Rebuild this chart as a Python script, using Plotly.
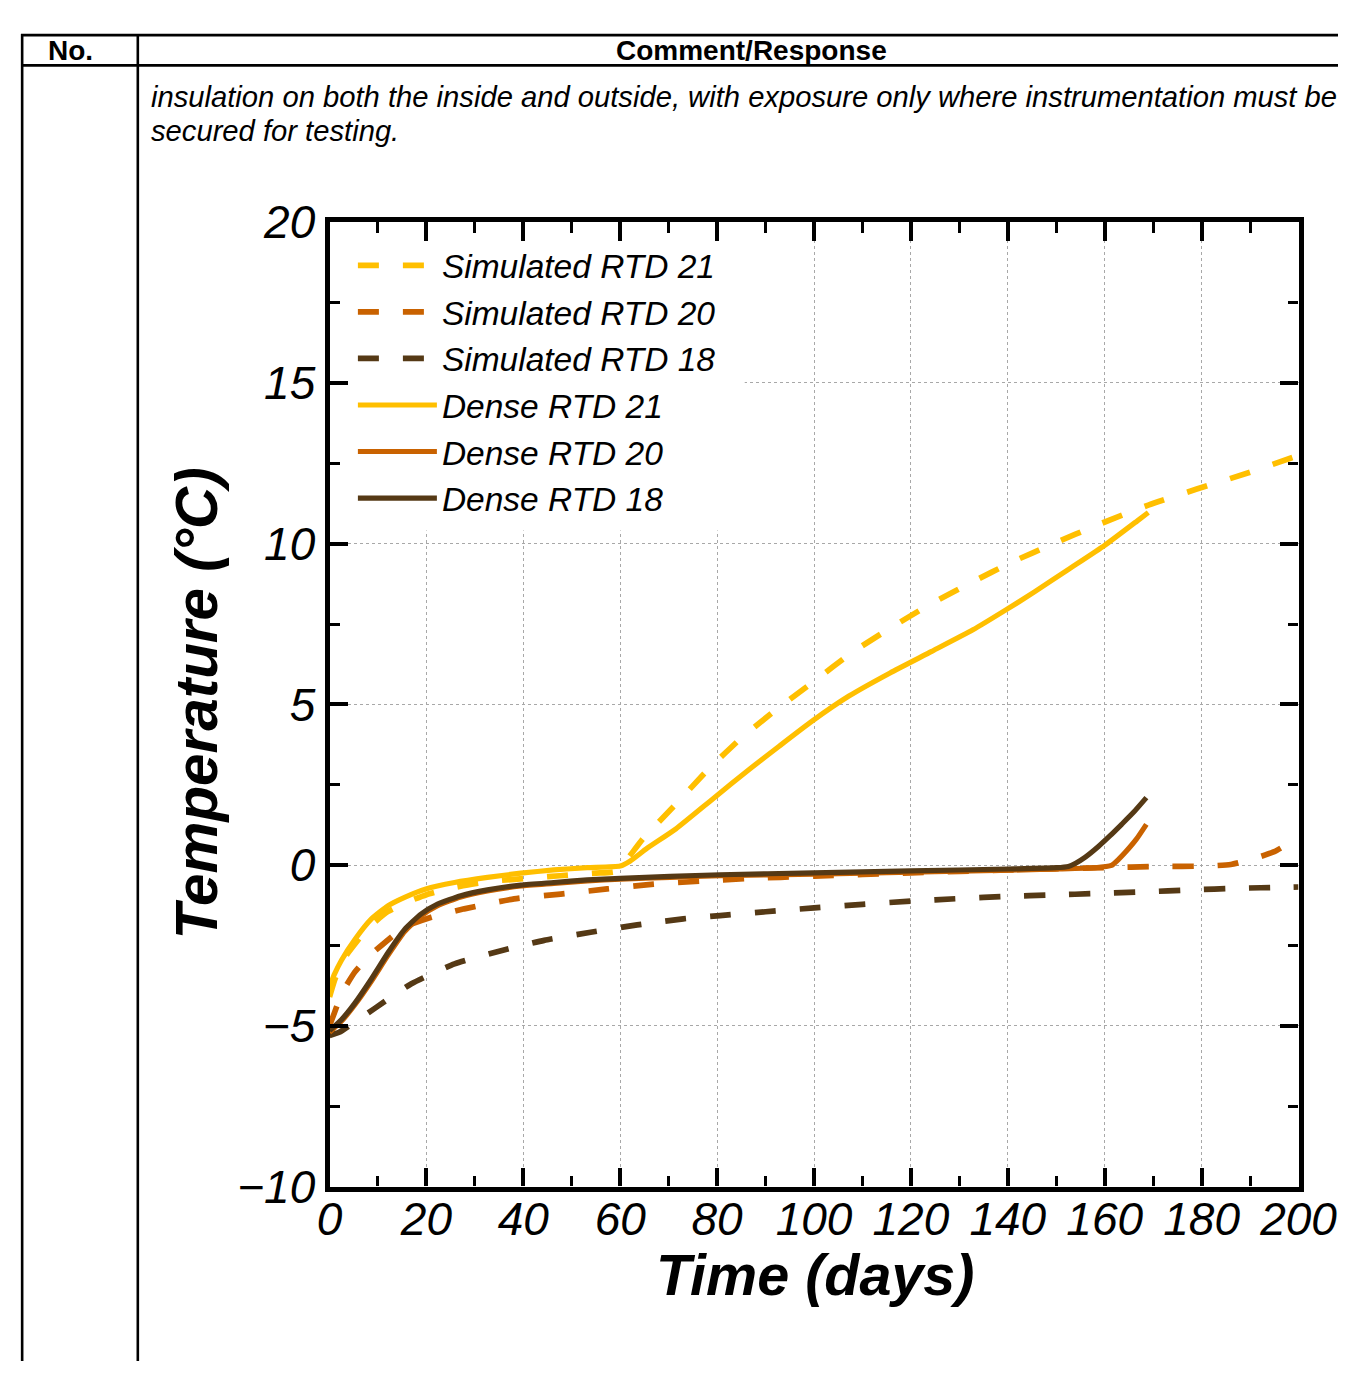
import plotly.graph_objects as go

W, H = 1369, 1379
FONT = "Liberation Sans, Arial, Helvetica, sans-serif"

# ---------------- data ----------------
sim21_days = [0, 1, 2, 3.5, 5, 8, 12, 16, 20, 25, 30, 35, 40, 45, 50, 55, 59, 61, 64.7, 71.5,
              78.3, 85.1, 92.3, 100, 107.7, 115.7, 123.8, 132.3, 140.9, 149.4, 158.3, 169,
              179, 189.5, 200]
sim21_temp = [-4.1, -3.6, -3.2, -2.8, -2.5, -1.95, -1.45, -1.15, -0.92, -0.72, -0.58, -0.48,
              -0.42, -0.36, -0.3, -0.25, -0.2, 0.1, 0.82, 1.9, 3.0, 3.97, 4.85, 5.72, 6.6,
              7.37, 8.1, 8.78, 9.43, 10.0, 10.57, 11.2, 11.7, 12.2, 12.75]

sim20_days = [0, 1, 2.5, 5.2, 8, 10.7, 13.5, 16.2, 21, 27.8, 38.1, 47.7, 57.3, 66.9, 76.5,
              86, 100, 120, 140, 160, 171, 181, 186, 190.5, 195, 198.4, 200]
sim20_temp = [-5.0, -4.6, -4.0, -3.33, -2.85, -2.5, -2.15, -1.88, -1.62, -1.36, -1.05, -0.9,
              -0.74, -0.59, -0.5, -0.42, -0.34, -0.24, -0.15, -0.08, -0.04, -0.03, 0.02,
              0.19, 0.42, 0.71, 0.82]

sim18_days = [0, 2, 5, 9.3, 16.9, 25.8, 35.4, 44.3, 53.9, 63.5, 73, 80.6, 90, 100, 110, 120,
              130, 140, 149, 158.7, 168.3, 177.8, 187.4, 197.1, 200]
sim18_temp = [-5.3, -5.2, -4.9, -4.46, -3.69, -3.07, -2.66, -2.34, -2.09, -1.86, -1.67,
              -1.57, -1.45, -1.33, -1.22, -1.12, -1.04, -0.97, -0.93, -0.88, -0.83, -0.77,
              -0.72, -0.69, -0.68]

dense21_days = [0, 1, 2.5, 5.2, 8.6, 12.1, 15.5, 19.9, 25.8, 32.6, 39.5, 46.3, 53.2, 60, 62,
                65.5, 71.5, 79.1, 86.8, 92.8, 99.6, 107.2, 115.7, 124.3, 132.8, 139.6, 145.5,
                152.3, 160, 166.8, 169]
dense21_temp = [-3.8, -3.4, -2.95, -2.32, -1.68, -1.26, -1.0, -0.74, -0.54, -0.38, -0.25, -0.15,
                -0.08, -0.03, 0.12, 0.52, 1.13, 2.06, 3.0, 3.7, 4.48, 5.26, 5.98, 6.65, 7.32,
                7.94, 8.5, 9.18, 9.95, 10.72, 10.97]

dense20_days = [0, 2.5, 5.2, 8.6, 12.1, 15.5, 18.9, 22.3, 27.1, 32.6, 39.5, 46.3, 53.2,
                60, 70.3, 80.6, 100, 120, 140, 150, 158, 161.4, 163, 164.2, 166.5, 168.6]
dense20_temp = [-5.2, -4.85, -4.35, -3.62, -2.8, -2.07, -1.58, -1.26, -0.99, -0.8,
                -0.65, -0.57, -0.49, -0.44, -0.38, -0.33, -0.28, -0.22, -0.16, -0.12, -0.08,
                -0.01, 0.2, 0.39, 0.8, 1.27]

dense18_days = [0, 2.5, 5.2, 8.6, 12.1, 15.5, 18.9, 22.3, 27.1, 32.6, 39.5, 46.3, 53.2,
                60, 70.3, 80.6, 100, 120, 140, 150, 152.5, 154, 156, 158.7, 161, 163.5, 166,
                168.6]
dense18_temp = [-5.15, -4.8, -4.3, -3.55, -2.72, -2.0, -1.52, -1.21, -0.95, -0.77,
                -0.62, -0.54, -0.46, -0.41, -0.35, -0.3, -0.24, -0.18, -0.12, -0.08, -0.04,
                0.06, 0.25, 0.58, 0.9, 1.27, 1.65, 2.1]

series_names = ["Simulated RTD 21", "Simulated RTD 20", "Simulated RTD 18",
                "Dense RTD 21", "Dense RTD 20", "Dense RTD 18"]

header_labels = ["No.", "Comment/Response"]
body_lines = ["insulation on both the inside and outside, with exposure only where instrumentation must be",
              "secured for testing."]
x_title = "Time (days)"
y_title = "Temperature (°C)"

# ---------------- styling ----------------
YELLOW = "#FFBF00"
ORANGE = "#C96200"
BROWN = "#553915"
DASH = "21px,24px"

# The photographed page is slightly scaled/offset; positions below are given in
# reference-picture pixels and converted to figure pixels.
S, OX, OY = 0.966, 18.2, 31.0


def fx(X):
    return (X - OX) / S


def fy(Y):
    return (Y - OY) / S


def px(X):
    return min(max(fx(X) / W, 0.0), 1.0)


def py(Y):
    return min(max(1 - fy(Y) / H, 0.0), 1.0)


def sz(v):
    return v / S


fig = go.Figure()
specs = [
    (sim21_days, sim21_temp, YELLOW, DASH, 5.5),
    (sim20_days, sim20_temp, ORANGE, DASH, 5.5),
    (sim18_days, sim18_temp, BROWN, DASH, 5.5),
    (dense21_days, dense21_temp, YELLOW, "solid", 5),
    (dense20_days, dense20_temp, ORANGE, "solid", 5),
    (dense18_days, dense18_temp, BROWN, "solid", 5),
]
for name, (xs, ys, col, dash, w) in zip(series_names, specs):
    fig.add_trace(go.Scatter(x=xs, y=ys, mode="lines", name=name,
                             line=dict(color=col, dash=dash, width=sz(w), shape="spline",
                                       smoothing=0.5)))

axis_common = dict(
    showline=True, linecolor="black", linewidth=sz(5), mirror="ticks",
    ticks="inside", ticklen=sz(18), tickwidth=sz(3.5), tickcolor="black",
    showgrid=True, gridcolor="#A8A8A8", griddash="dot", gridwidth=1,
    zeroline=False,
    tickfont=dict(family=FONT, size=46, color="black", style="italic"),
)

fig.update_xaxes(range=[0, 200], dtick=20, tick0=0,
                 minor=dict(dtick=10, ticklen=sz(10), tickwidth=sz(2.5), tickcolor="black",
                            ticks="inside", showgrid=False),
                 domain=[px(328), px(1301)], ticklabelstandoff=-12, **axis_common)
fig.update_yaxes(range=[-10, 20], dtick=5, tick0=0,
                 minor=dict(dtick=2.5, ticklen=sz(10), tickwidth=sz(2.5), tickcolor="black",
                            ticks="inside", showgrid=False),
                 domain=[py(1188), py(220)], ticklabelstandoff=0, **axis_common)

shapes = []
# white box behind legend hiding the grid
shapes.append(dict(type="rect", xref="x", yref="y", x0=0, x1=85.7, y0=10.41, y1=20,
                   fillcolor="white", line=dict(width=0), layer="between"))
# table lines
line_k = dict(color="black", width=2.6)
top_line = 1 - 1.2 / H
shapes += [
    dict(type="line", xref="paper", yref="paper", x0=0, x1=1, y0=top_line, y1=top_line, line=line_k),
    dict(type="line", xref="paper", yref="paper", x0=0, x1=1, y0=py(62.5), y1=py(62.5), line=line_k),
    dict(type="line", xref="paper", yref="paper", x0=1.2 / W, x1=1.2 / W, y0=0, y1=1, line=line_k),
    dict(type="line", xref="paper", yref="paper", x0=px(135.5), x1=px(135.5), y0=0, y1=1, line=line_k),
]

header_y = 1 - 17.5 / H
annotations = [
    dict(text="<b>" + header_labels[0] + "</b>", x=px(68), y=header_y, xref="paper", yref="paper",
         showarrow=False, xanchor="center", yanchor="middle",
         font=dict(family=FONT, size=28, color="black")),
    dict(text="<b>" + header_labels[1] + "</b>", x=px(752), y=header_y, xref="paper", yref="paper",
         showarrow=False, xanchor="center", yanchor="middle",
         font=dict(family=FONT, size=28, color="black")),
    dict(text=body_lines[0], x=px(147), y=py(94), xref="paper", yref="paper",
         showarrow=False, xanchor="left", yanchor="middle",
         font=dict(family=FONT, size=29.2, color="black", style="italic")),
    dict(text=body_lines[1], x=px(147), y=py(128), xref="paper", yref="paper",
         showarrow=False, xanchor="left", yanchor="middle",
         font=dict(family=FONT, size=29.2, color="black", style="italic")),
    dict(text="<b><i>" + x_title + "</i></b>", x=px(816), y=py(1277), xref="paper", yref="paper",
         showarrow=False, xanchor="center", yanchor="middle",
         font=dict(family=FONT, size=57.5, color="black")),
    dict(text="<b><i>" + y_title + "</i></b>", x=px(194), y=py(703), xref="paper", yref="paper",
         showarrow=False, xanchor="center", yanchor="middle", textangle=-90,
         font=dict(family=FONT, size=58.4, color="black")),
]

fig.update_layout(
    width=W, height=H,
    margin=dict(l=0, r=0, t=0, b=0),
    paper_bgcolor="white", plot_bgcolor="white",
    font=dict(family=FONT, color="black"),
    shapes=shapes, annotations=annotations,
    showlegend=True,
    legend=dict(x=345 / W, y=1 - 211 / H, xanchor="left", yanchor="top",
                bgcolor="rgba(0,0,0,0)", borderwidth=0, itemwidth=79,
                font=dict(family=FONT, size=33.5, color="black", style="italic"),
                tracegroupgap=0),
)

fig.write_html("out.html")
